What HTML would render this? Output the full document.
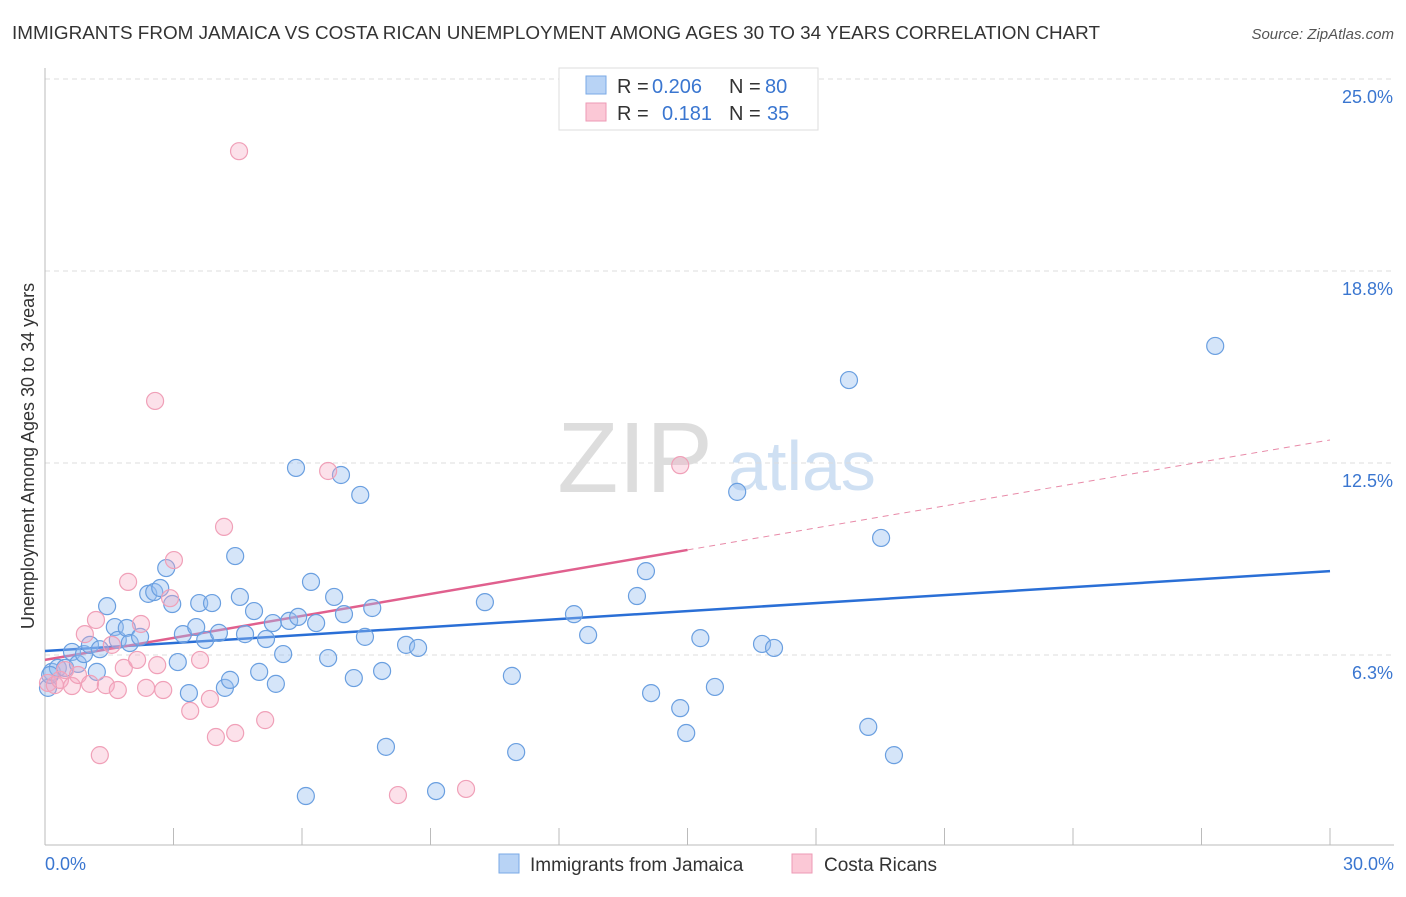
<!DOCTYPE html>
<html><head><meta charset="utf-8"><style>
body{margin:0;background:#fff;font-family:"Liberation Sans",sans-serif}
svg text{font-family:"Liberation Sans",sans-serif}
</style></head><body>
<svg id="chart" width="1406" height="892">
<text x="12" y="39" font-size="18" fill="#333" textLength="1088" lengthAdjust="spacingAndGlyphs">IMMIGRANTS FROM JAMAICA VS COSTA RICAN UNEMPLOYMENT AMONG AGES 30 TO 34 YEARS CORRELATION CHART</text>
<text x="1394" y="39" font-size="15" fill="#555" font-style="italic" text-anchor="end">Source: ZipAtlas.com</text>
<text x="635" y="492" font-size="100" fill="#ddd" font-family="Liberation Serif" text-anchor="middle">ZIP</text>
<text x="802" y="490" font-size="70" fill="#cfe0f3" text-anchor="middle">atlas</text>
<g id="grid"></g><g id="axes"></g><g id="lines"></g><g id="pts"></g>
<text transform="translate(34,456) rotate(-90)" font-size="18" fill="#333" text-anchor="middle">Unemployment Among Ages 30 to 34 years</text>
<g>
<rect x="559" y="68" width="259" height="62" fill="#fff" stroke="#ddd"/>
<rect x="586" y="76" width="20" height="18" fill="#b8d3f5" stroke="#7aaae6"/>
<rect x="586" y="103" width="20" height="18" fill="#fbc8d6" stroke="#ee9ab5"/>
<text x="617" y="93" font-size="20" fill="#333">R =</text>
<text x="652" y="93" font-size="20" fill="#3a76d0">0.206</text>
<text x="729" y="93" font-size="20" fill="#333">N =</text>
<text x="765" y="93" font-size="20" fill="#3a76d0">80</text>
<text x="617" y="120" font-size="20" fill="#333">R =</text>
<text x="662" y="120" font-size="20" fill="#3a76d0">0.181</text>
<text x="729" y="120" font-size="20" fill="#333">N =</text>
<text x="767" y="120" font-size="20" fill="#3a76d0">35</text>
</g>
<g>
<rect x="499" y="854" width="20" height="19" fill="#b8d3f5" stroke="#7aaae6"/>
<text x="530" y="871" font-size="19" fill="#333">Immigrants from Jamaica</text>
<rect x="792" y="854" width="20" height="19" fill="#fbc8d6" stroke="#ee9ab5"/>
<text x="824" y="871" font-size="19" fill="#333">Costa Ricans</text>
</g>
</svg>
<script>
const blueX=[0.07,0.16,0.30,0.47,0.63,0.77,0.91,1.05,1.21,1.28,1.45,1.63,1.70,1.91,1.98,2.22,2.41,2.55,2.69,2.83,2.97,3.10,3.22,3.36,3.53,3.60,3.74,3.90,4.06,4.20,4.32,4.44,4.55,4.67,4.88,5.00,5.16,5.32,5.39,5.56,5.70,5.86,5.91,6.09,6.21,6.33,6.61,6.75,6.91,6.98,7.21,7.36,7.47,7.64,7.87,7.96,8.43,8.71,9.13,10.27,10.90,11.00,12.35,12.68,13.82,14.03,14.15,14.83,14.97,15.30,15.64,16.16,16.74,17.02,18.77,19.22,19.52,19.82,27.32,0.12];
const blueY=[5.18,5.70,5.83,5.83,6.35,5.96,6.28,6.58,5.70,6.44,7.84,7.16,6.74,7.13,6.64,6.84,8.24,8.30,8.43,9.08,7.91,6.02,6.93,5.01,7.16,7.94,6.74,7.94,6.97,5.18,5.44,9.47,8.14,6.93,7.68,5.70,6.77,7.29,5.31,6.28,7.36,12.34,7.49,1.66,8.63,7.29,6.15,8.14,12.11,7.58,5.50,11.46,6.84,7.78,5.73,3.26,6.58,6.48,1.82,7.97,5.57,3.09,7.58,6.90,8.17,8.98,5.01,4.52,3.71,6.80,5.21,11.56,6.61,6.48,15.20,3.91,10.06,2.99,16.31,5.60];
const pinkX=[0.07,0.23,0.35,0.47,0.63,0.77,0.93,1.05,1.19,1.28,1.42,1.56,1.70,1.84,1.94,2.15,2.24,2.36,2.57,2.62,2.76,2.92,3.01,3.39,3.62,3.85,3.99,4.18,4.44,4.53,5.14,6.61,8.24,9.83,14.83];
const pinkY=[5.34,5.27,5.44,5.76,5.24,5.60,6.93,5.31,7.39,2.99,5.27,6.58,5.11,5.83,8.63,6.09,7.26,5.18,14.52,5.92,5.11,8.10,9.34,4.43,6.09,4.82,3.58,10.42,3.71,22.65,4.13,12.24,1.69,1.89,12.43];
const blueTrend=[6.38,8.98];
const pinkTrend=[6.09,9.67,13.25];
const yTicks=[6.25,12.5,18.75,25.0];
const yTickLabels=["6.3%","12.5%","18.8%","25.0%"];
const xTicks=[0,3,6,9,12,15,18,21,24,27,30];
const NS="http://www.w3.org/2000/svg";
const X=v=>45+v/30*1285, Y=v=>847-v/6.25*192;
function mk(tag,attrs,parent){const e=document.createElementNS(NS,tag);for(const k in attrs)e.setAttribute(k,attrs[k]);document.getElementById(parent).appendChild(e);return e;}
yTicks.forEach((t,i)=>{
 const l=mk('line',{x1:45,x2:1394,y1:Y(t),y2:Y(t),stroke:'#ddd','stroke-dasharray':'5,4'},'grid');
 
 
 const tx=mk('text',{x:1393,y:Y(t)+24,'font-size':18,fill:'#3a76d0','text-anchor':'end'},'axes');
 tx.textContent=yTickLabels[i];
 
 
});
let ax=mk('line',{x1:45,x2:45,y1:68,y2:845,stroke:'#bbb'},'axes');


ax=mk('line',{x1:45,x2:1394,y1:845,y2:845,stroke:'#bbb'},'axes');


xTicks.forEach(t=>{
 const l=mk('line',{x1:X(t),x2:X(t),y1:828,y2:845,stroke:'#bbb'},'axes');
 
 
});
let xl=mk('text',{x:45,y:870,'font-size':18,fill:'#3a76d0'},'axes');xl.textContent=xTicks[0].toFixed(1)+'%';


xl=mk('text',{x:1394,y:870,'font-size':18,fill:'#3a76d0','text-anchor':'end'},'axes');xl.textContent=xTicks[xTicks.length-1].toFixed(1)+'%';


blueX.forEach((v,i)=>{
 const c=mk('circle',{cx:X(v),cy:Y(blueY[i]),r:8.5,fill:'rgba(150,190,240,0.4)',stroke:'#6a9fe0','stroke-width':1.2},'pts');
 
 
});
pinkX.forEach((v,i)=>{
 const c=mk('circle',{cx:X(v),cy:Y(pinkY[i]),r:8.5,fill:'rgba(245,170,195,0.35)',stroke:'#f0a0b8','stroke-width':1.2},'pts');
 
 
});
let t=mk('line',{x1:X(0),y1:Y(blueTrend[0]),x2:X(30),y2:Y(blueTrend[1]),stroke:'#2a6fd6','stroke-width':2.5},'lines');


t=mk('line',{x1:X(0),y1:Y(pinkTrend[0]),x2:X(15),y2:Y(pinkTrend[1]),stroke:'#e0608e','stroke-width':2.5},'lines');


t=mk('line',{x1:X(15),y1:Y(pinkTrend[1]),x2:X(30),y2:Y(pinkTrend[2]),stroke:'#e88aa8','stroke-width':1,'stroke-dasharray':'6,5'},'lines');


</script>
</body></html>
